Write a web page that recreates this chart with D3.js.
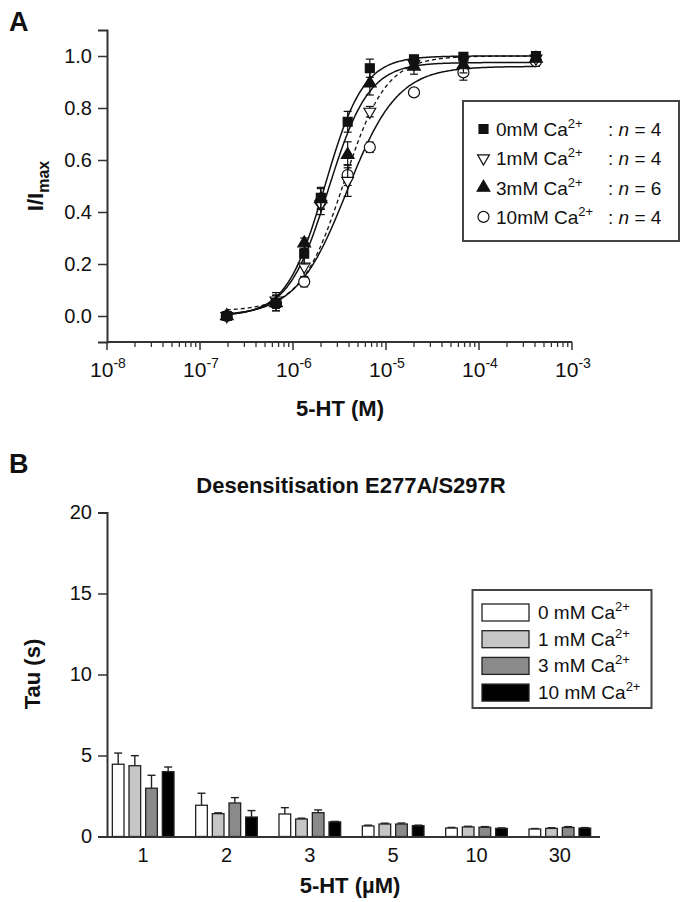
<!DOCTYPE html>
<html><head><meta charset="utf-8">
<script src="https://cdn.jsdelivr.net/npm/d3@7"></script>
<style>body{margin:0;background:#fff} svg{display:block} text{font-family:"Liberation Sans",Arial,sans-serif;fill:#111}</style>
</head><body><svg id="c" width="687" height="902"></svg>
<script>
// ---------- Panel A data ----------
const concM = [1.94e-7, 6.56e-7, 1.32e-6, 1.99e-6, 3.87e-6, 6.7e-6, 2.0e-5, 6.8e-5, 4.1e-4];
const seriesA = ["0mM", "1mM", "3mM", "10mM"];
const nA = [4, 4, 6, 4];
const resp0mM = [0.0, 0.05, 0.24, 0.455, 0.747, 0.953, 0.987, 0.997, 1.0];
const err0mM  = [0.01, 0.03, 0.04, 0.04, 0.04, 0.035, 0.015, 0.01, 0.01];
const resp1mM = [0.0, 0.06, 0.19, 0.43, 0.52, 0.786, 0.97, 0.985, 0.99];
const err1mM  = [0.01, 0.03, 0.04, 0.04, 0.06, 0.02, 0.02, 0.01, 0.01];
const resp3mM = [0.0, 0.05, 0.28, 0.45, 0.62, 0.895, 0.96, 0.965, 0.99];
const err3mM  = [0.01, 0.03, 0.02, 0.04, 0.05, 0.045, 0.03, 0.03, 0.01];
const resp10mM = [0.0, 0.05, 0.132, 0.44, 0.542, 0.649, 0.86, 0.937, 0.98];
const err10mM  = [0.01, 0.02, 0.02, 0.03, 0.04, 0.02, 0.01, 0.03, 0.02];
// Hill fit parameters (one per series)
const fitEC50 = [2.2e-6, 3.5e-6, 2.4e-6, 3.8e-6];
const fitHill = [2.1, 1.9, 2.0, 1.6];
const fitTop = [1.0, 1.0, 0.975, 0.96];
const fitBottom = [0.0, 0.02, 0.0, 0.0];
const yTicksA = [0.0, 0.2, 0.4, 0.6, 0.8, 1.0];
const xTicksA = [-8, -7, -6, -5, -4, -3];

// ---------- Panel B data ----------
const doseB = ["1", "2", "3", "5", "10", "30"];
const seriesB = ["0", "1", "3", "10"];
const tau0mM  = [4.46, 1.93, 1.39, 0.65, 0.52, 0.46];
const tErr0mM = [0.69, 0.74, 0.39, 0.05, 0.04, 0.03];
const tau1mM  = [4.37, 1.41, 1.08, 0.77, 0.59, 0.50];
const tErr1mM = [0.62, 0.05, 0.05, 0.05, 0.04, 0.04];
const tau3mM  = [2.98, 2.07, 1.47, 0.77, 0.57, 0.56];
const tErr3mM = [0.80, 0.33, 0.17, 0.06, 0.04, 0.05];
const tau10mM = [4.00, 1.20, 0.90, 0.67, 0.50, 0.52];
const tErr10mM = [0.29, 0.40, 0.03, 0.03, 0.03, 0.03];
const yTicksB = [0, 5, 10, 15, 20];

const svg = d3.select("#c");
const AX = "#333";

function supText(sel, base, sup, supfs, raise) {
  sel.append("tspan").text(base);
  sel.append("tspan").attr("dy", -raise).attr("font-size", supfs).text(sup);
}

// ================= PANEL A =================
svg.append("text").attr("x", 9).attr("y", 31).attr("font-size", 27).attr("font-weight", "bold").text("A");

const xA = d3.scaleLog().domain([1e-8, 1e-3]).range([107, 572]);
const yA = d3.scaleLinear().domain([-0.1, 1.1]).range([342, 30]);

const gA = svg.append("g");
const yAxisA = d3.axisLeft(yA).tickValues(yTicksA).tickFormat(d3.format(".1f")).tickSize(9).tickPadding(6);
const gyA = gA.append("g").attr("transform", "translate(107,0)").call(yAxisA);
gyA.select(".domain").attr("stroke", AX).attr("stroke-width", 2);
gyA.selectAll(".tick line").attr("stroke", AX).attr("stroke-width", 1.5);
gyA.selectAll(".tick text").attr("font-size", 20).attr("fill", "#111").attr("font-family", "Liberation Sans, Arial, sans-serif");

const gxA = gA.append("g").attr("transform", "translate(0,342)");
gxA.append("line").attr("x1", 107).attr("x2", 572).attr("stroke", AX).attr("stroke-width", 2);
const minor = [];
for (let e = -8; e < -3; e++) for (let m = 2; m <= 9; m++) minor.push(m * Math.pow(10, e));
gxA.selectAll(".mn").data(minor).join("line").attr("x1", d => xA(d)).attr("x2", d => xA(d))
  .attr("y1", 0).attr("y2", 5).attr("stroke", AX).attr("stroke-width", 1.3);
gxA.selectAll(".mj").data(xTicksA).join("line").attr("x1", d => xA(Math.pow(10, d))).attr("x2", d => xA(Math.pow(10, d)))
  .attr("y1", 0).attr("y2", 8).attr("stroke", AX).attr("stroke-width", 1.5);
gxA.selectAll(".lb").data(xTicksA).join("text").attr("x", d => xA(Math.pow(10, d)) + 1).attr("y", 35)
  .attr("text-anchor", "middle").attr("font-size", 21)
  .each(function (d) { supText(d3.select(this), "10", String(d), 14, 9); });

const ylab = svg.append("text").attr("transform", "translate(43,186) rotate(-90)").attr("text-anchor", "middle")
  .attr("font-size", 22).attr("font-weight", "bold");
ylab.append("tspan").text("I/I");
ylab.append("tspan").attr("dy", 6).attr("font-size", 16).text("max");
svg.append("text").attr("x", 340).attr("y", 416).attr("text-anchor", "middle").attr("font-size", 22)
  .attr("font-weight", "bold").text("5-HT (M)");

// fitted curves
const respA = [resp0mM, resp1mM, resp3mM, resp10mM];
const errA = [err0mM, err1mM, err3mM, err10mM];
const hill = (c, i) => fitBottom[i] + (fitTop[i] - fitBottom[i]) / (1 + Math.pow(fitEC50[i] / c, fitHill[i]));
const lineA = d3.line().x(d => xA(d[0])).y(d => yA(d[1])).curve(d3.curveBasis);
const lcx = Math.log10(concM[0]), hcx = Math.log10(concM[concM.length - 1]);
const drawOrder = [3, 1, 2, 0];
drawOrder.forEach(i => {
  const pts = d3.range(0, 201).map(k => { const c = Math.pow(10, lcx + (hcx - lcx) * k / 200); return [c, hill(c, i)]; });
  gA.append("path").datum(pts).attr("d", lineA).attr("fill", "none").attr("stroke", "#111")
    .attr("stroke-width", i === 1 ? 1.3 : 1.5).attr("stroke-dasharray", i === 1 ? "4,3" : null);
});

const symA = [
  d3.symbol().type(d3.symbolSquare).size(80),
  d3.symbol().type(d3.symbolTriangle).size(60),
  d3.symbol().type(d3.symbolTriangle).size(70),
  d3.symbol().type(d3.symbolCircle).size(95)
];
const fillA = ["#111", "#fff", "#111", "#fff"];
const rotA = [0, 180, 0, 0];
function marker(g, i, x, y) {
  g.append("path").attr("d", symA[i]()).attr("transform", `translate(${x},${y}) rotate(${rotA[i]})`)
    .attr("fill", fillA[i]).attr("stroke", "#111").attr("stroke-width", 1.2);
}
drawOrder.forEach(i => {
  const g = gA.append("g");
  concM.forEach((c, j) => {
    const x = xA(c), v = respA[i][j], e = errA[i][j];
    g.append("line").attr("x1", x).attr("x2", x).attr("y1", yA(v - e)).attr("y2", yA(v + e)).attr("stroke", "#111").attr("stroke-width", 1.2);
    [v - e, v + e].forEach(w => g.append("line").attr("x1", x - 4).attr("x2", x + 4).attr("y1", yA(w)).attr("y2", yA(w)).attr("stroke", "#111").attr("stroke-width", 1.2));
  });
  concM.forEach((c, j) => marker(g, i, xA(c), yA(respA[i][j])));
});

// legend A
const lgA = svg.append("g");
lgA.append("rect").attr("x", 463).attr("y", 101).attr("width", 216).attr("height", 140).attr("fill", "#fff").attr("stroke", "#444").attr("stroke-width", 2);
seriesA.forEach((s, i) => {
  const y = 129 + i * 29.3;
  marker(lgA, i, 483.5, y);
  const t = lgA.append("text").attr("x", 496).attr("y", y + 7).attr("font-size", 19);
  t.append("tspan").text(s + " Ca");
  t.append("tspan").attr("dy", -8).attr("font-size", 13).text("2+");
  const t2 = lgA.append("text").attr("x", 608).attr("y", y + 7).attr("font-size", 19);
  t2.append("tspan").text(": ");
  t2.append("tspan").attr("font-style", "italic").text("n");
  t2.append("tspan").text(" = " + nA[i]);
});

// ================= PANEL B =================
svg.append("text").attr("x", 9).attr("y", 473).attr("font-size", 27).attr("font-weight", "bold").text("B");
svg.append("text").attr("x", 351).attr("y", 493).attr("text-anchor", "middle").attr("font-size", 22)
  .attr("font-weight", "bold").text("Desensitisation E277A/S297R");

const yB = d3.scaleLinear().domain([0, 20]).range([836.5, 512.5]);
const x0B = d3.scaleBand().domain(doseB).range([101.5, 601.5]).paddingInner(0.26).paddingOuter(0.13);
const x1B = d3.scaleBand().domain(seriesB).range([0, x0B.bandwidth()]).paddingInner(0.3);
const fillB = ["#ffffff", "#c6c6c6", "#8a8a8a", "#000000"];
const tauB = [tau0mM, tau1mM, tau3mM, tau10mM];
const tErrB = [tErr0mM, tErr1mM, tErr3mM, tErr10mM];

const gB = svg.append("g");
const gyB = gB.append("g").attr("transform", "translate(107,0)")
  .call(d3.axisLeft(yB).tickValues(yTicksB).tickSize(9).tickPadding(6));
gyB.select(".domain").attr("stroke", AX).attr("stroke-width", 2);
gyB.selectAll(".tick line").attr("stroke", AX).attr("stroke-width", 1.5);
gyB.selectAll(".tick text").attr("font-size", 20).attr("fill", "#111").attr("font-family", "Liberation Sans, Arial, sans-serif");

doseB.forEach((d, j) => {
  seriesB.forEach((s, i) => {
    const x = x0B(d) + x1B(s), w = x1B.bandwidth(), v = tauB[i][j], e = tErrB[i][j];
    const cx = x + w / 2;
    gB.append("line").attr("x1", cx).attr("x2", cx).attr("y1", yB(v)).attr("y2", yB(v + e)).attr("stroke", "#222").attr("stroke-width", 1.4);
    gB.append("line").attr("x1", cx - 4).attr("x2", cx + 4).attr("y1", yB(v + e)).attr("y2", yB(v + e)).attr("stroke", "#222").attr("stroke-width", 1.4);
    gB.append("rect").attr("x", x).attr("y", yB(v)).attr("width", w).attr("height", yB(0) - yB(v))
      .attr("fill", fillB[i]).attr("stroke", "#222").attr("stroke-width", 1.3);
  });
});

const gxB = gB.append("g").attr("transform", "translate(0,837)");
gxB.append("line").attr("x1", 107).attr("x2", 600).attr("stroke", AX).attr("stroke-width", 2);
gxB.selectAll("text").data(doseB).join("text").attr("x", d => x0B(d) + x0B.bandwidth() / 2).attr("y", 25)
  .attr("text-anchor", "middle").attr("font-size", 20).text(d => d);

svg.append("text").attr("transform", "translate(40,674) rotate(-90)").attr("text-anchor", "middle")
  .attr("font-size", 22).attr("font-weight", "bold").text("Tau (s)");
svg.append("text").attr("x", 350).attr("y", 893).attr("text-anchor", "middle").attr("font-size", 22)
  .attr("font-weight", "bold").text("5-HT (µM)");

// legend B
const lgB = svg.append("g");
lgB.append("rect").attr("x", 472.5).attr("y", 590).attr("width", 179).attr("height", 118).attr("fill", "#fff").attr("stroke", "#444").attr("stroke-width", 2);
seriesB.forEach((s, i) => {
  const y = 604 + i * 26.7;
  lgB.append("rect").attr("x", 482).attr("y", y).attr("width", 47).attr("height", 17).attr("fill", fillB[i]).attr("stroke", "#222").attr("stroke-width", 1.3);
  const t = lgB.append("text").attr("x", 538).attr("y", y + 15).attr("font-size", 19);
  t.append("tspan").text(s + " mM Ca");
  t.append("tspan").attr("dy", -8).attr("font-size", 13).text("2+");
});
</script></body></html>
